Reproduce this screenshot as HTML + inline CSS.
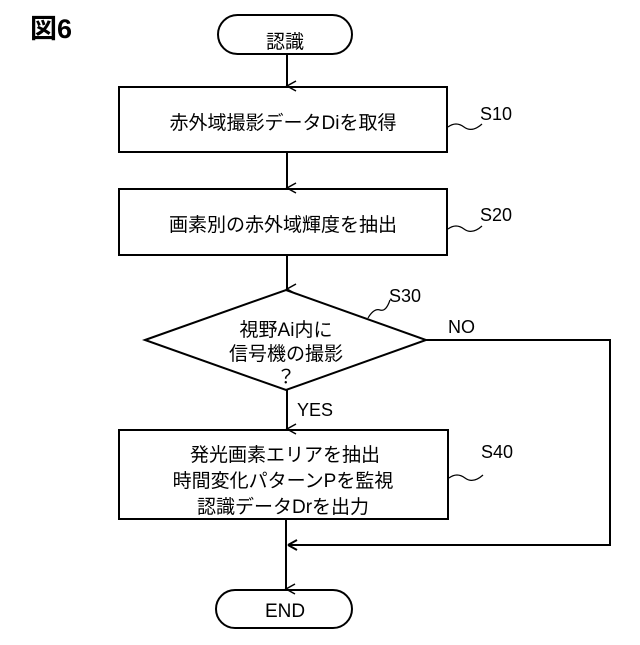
<!DOCTYPE html>
<html><head><meta charset="utf-8"><style>
body{margin:0;background:#fff}
svg text{font-family:"Liberation Sans","Noto Sans CJK JP",sans-serif;fill:#000}
</style></head><body>
<svg width="640" height="640" viewBox="0 0 640 640" xmlns="http://www.w3.org/2000/svg">
<defs><marker id="a" markerWidth="12" markerHeight="12" refX="6" refY="10" orient="auto" markerUnits="userSpaceOnUse"><path d="M1,1 L6,10 L11,1" fill="none" stroke="#000" stroke-width="1.5"/></marker></defs>
<text x="30" y="38" font-size="27" font-weight="bold">図6</text>
<g fill="none" stroke="#000" stroke-width="2">
<rect x="218" y="15" width="134" height="39" rx="19.5"/>
<rect x="119" y="87" width="328" height="65"/>
<rect x="119" y="189" width="328" height="66"/>
<path d="M145,340 L286,290 L426,340 L286,390 Z"/>
<rect x="119" y="430" width="329" height="89"/>
<rect x="216" y="590" width="136" height="38" rx="19"/>
<line x1="287" y1="54" x2="287" y2="86" marker-end="url(#a)"/>
<line x1="287" y1="152" x2="287" y2="188" marker-end="url(#a)"/>
<line x1="287" y1="255" x2="287" y2="289" marker-end="url(#a)"/>
<line x1="287" y1="390" x2="287" y2="429" marker-end="url(#a)"/>
<line x1="286" y1="519" x2="286" y2="589" marker-end="url(#a)"/>
<path d="M426,340 H610 V545 H288"/>
<path d="M288,545 L297,540 M288,545 L297,550"/>
</g>
<g fill="none" stroke="#000" stroke-width="1.2">
<path d="M448,127 q8,-6 16,0 t18,-3"/>
<path d="M448,229 q8,-6 16,0 t18,-3"/>
<path d="M368,318 q6,-10 12,-8 t10,-10"/>
<path d="M449,478 q8,-6 16,0 t18,-3"/>
</g>
<g font-size="19" text-anchor="middle">
<text x="285" y="48">認識</text>
<text x="283" y="129">赤外域撮影データDiを取得</text>
<text x="283" y="231">画素別の赤外域輝度を抽出</text>
<text x="286" y="336">視野Ai内に</text>
<text x="286" y="360">信号機の撮影</text>
<text x="286" y="383">？</text>
<text x="285" y="461">発光画素エリアを抽出</text>
<text x="283" y="487">時間変化パターンPを監視</text>
<text x="283" y="513">認識データDrを出力</text>
<text x="285" y="617">END</text>
</g>
<g font-size="18">
<text x="480" y="120">S10</text>
<text x="480" y="221">S20</text>
<text x="389" y="302">S30</text>
<text x="448" y="333">NO</text>
<text x="297" y="416">YES</text>
<text x="481" y="458">S40</text>
</g>
</svg>
</body></html>
